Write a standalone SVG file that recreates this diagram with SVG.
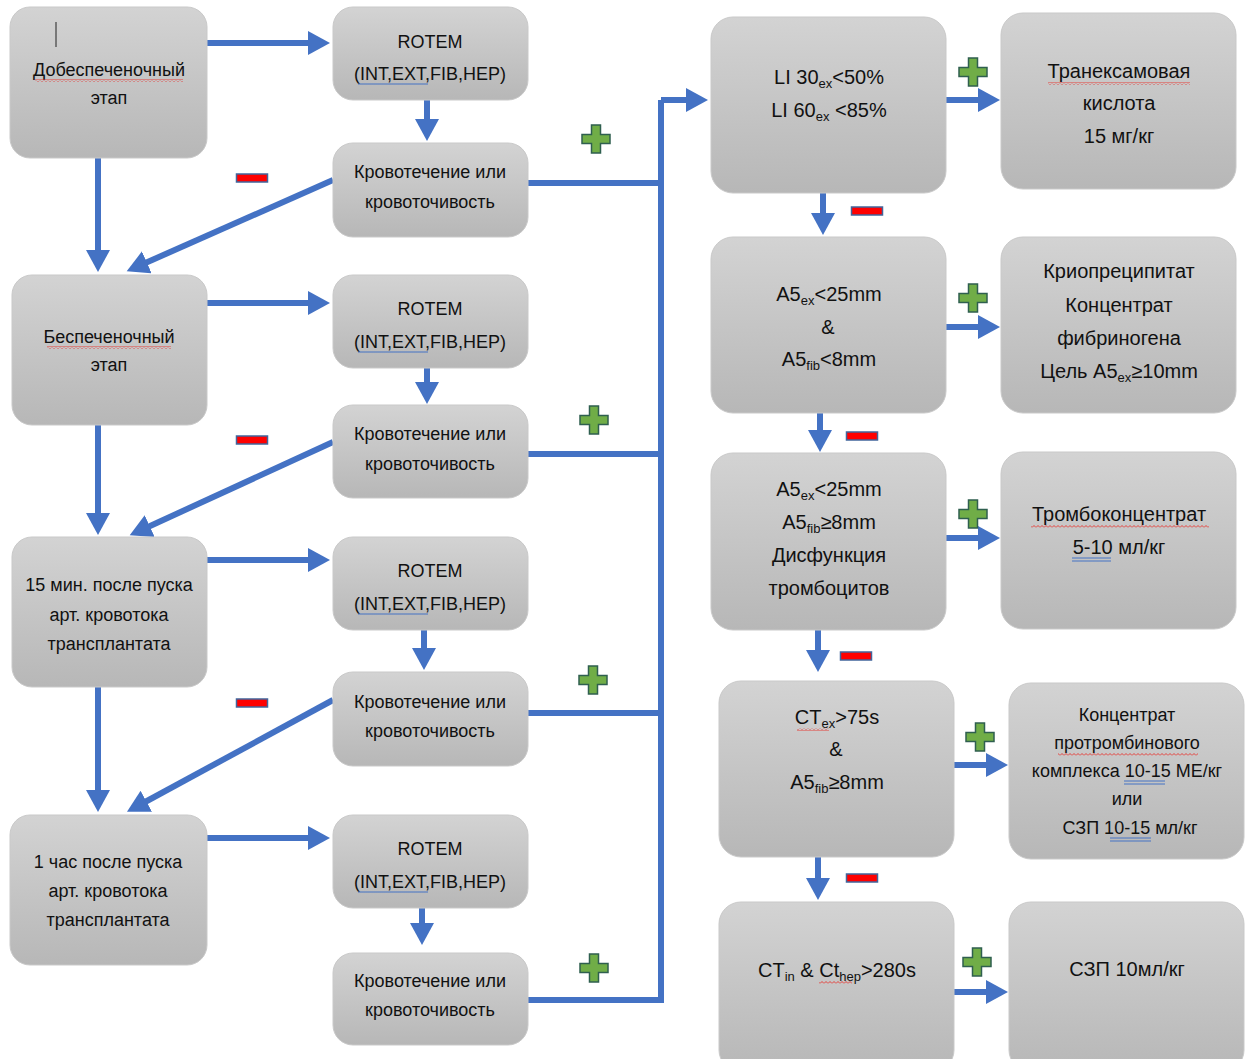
<svg xmlns="http://www.w3.org/2000/svg" width="1253" height="1059" viewBox="0 0 1253 1059">
<defs>
<linearGradient id="g" x1="0" y1="0" x2="0" y2="1">
<stop offset="0" stop-color="#d3d3d3"/>
<stop offset="1" stop-color="#b7b7b7"/>
</linearGradient>
<marker id="ah" markerUnits="userSpaceOnUse" markerWidth="24" markerHeight="26" refX="14" refY="12" orient="auto">
<path d="M0 0 L22 12 L0 24 Z" fill="#4472c4"/>
</marker>
<pattern id="wave" width="4" height="3" patternUnits="userSpaceOnUse">
<path d="M0 2.5 L2 0.5 L4 2.5" fill="none" stroke="#e8302a" stroke-width="0.9"/>
</pattern>
<g id="plus"><path d="M-4.5 -14 H4.5 V-4.5 H14 V4.5 H4.5 V14 H-4.5 V4.5 H-14 V-4.5 H-4.5 Z" fill="#70ad47" stroke="#2f5f4f" stroke-width="1.5"/></g>
<g id="minus"><rect x="-15.5" y="-4" width="31" height="8" fill="#ff0000" stroke="#41659c" stroke-width="1.5"/></g>
</defs>
<style>
.box{fill:url(#g);stroke:#c9c9c9;stroke-width:1}
text{font-family:"Liberation Sans",Arial,sans-serif;fill:#111;text-anchor:middle}
.s{font-size:18px}
.m{font-size:20px}
.c{fill:none;stroke:#4472c4;stroke-width:6}
.sq{fill:url(#wave)}
.bl{stroke:#4472c4;stroke-width:1;fill:none}
</style>
<rect width="1253" height="1059" fill="#ffffff"/>

<g id="connectors">
<path class="c" d="M207 43 H322" marker-end="url(#ah)"/>
<path class="c" d="M207 303 H322" marker-end="url(#ah)"/>
<path class="c" d="M207 560 H322" marker-end="url(#ah)"/>
<path class="c" d="M207 838 H322" marker-end="url(#ah)"/>
<path class="c" d="M427 100 V133" marker-end="url(#ah)"/>
<path class="c" d="M427 368 V396" marker-end="url(#ah)"/>
<path class="c" d="M424 630 V662" marker-end="url(#ah)"/>
<path class="c" d="M422 907 V937" marker-end="url(#ah)"/>
<path class="c" d="M98 158 V264" marker-end="url(#ah)"/>
<path class="c" d="M98 425 V527" marker-end="url(#ah)"/>
<path class="c" d="M98 687 V804" marker-end="url(#ah)"/>
<path class="c" d="M333 180 L134 268" marker-end="url(#ah)"/>
<path class="c" d="M333 442 L137 532" marker-end="url(#ah)"/>
<path class="c" d="M333 700 L134 808" marker-end="url(#ah)"/>
<path class="c" d="M528 183 H661 M528 454 H661 M528 713 H661 M528 1000 H661 V100"/>
<path class="c" d="M661 100 H700" marker-end="url(#ah)"/>
<path class="c" d="M823 193 V227" marker-end="url(#ah)"/>
<path class="c" d="M820 413 V444" marker-end="url(#ah)"/>
<path class="c" d="M818 630 V664" marker-end="url(#ah)"/>
<path class="c" d="M818 857 V892" marker-end="url(#ah)"/>
<path class="c" d="M946 100 H992" marker-end="url(#ah)"/>
<path class="c" d="M946 327 H992" marker-end="url(#ah)"/>
<path class="c" d="M946 538 H992" marker-end="url(#ah)"/>
<path class="c" d="M954 765 H1000" marker-end="url(#ah)"/>
<path class="c" d="M954 992 H1000" marker-end="url(#ah)"/>
</g>

<g id="signs">
<use href="#plus" x="596" y="139"/>
<use href="#plus" x="594" y="420"/>
<use href="#plus" x="593" y="680"/>
<use href="#plus" x="594" y="968"/>
<use href="#plus" x="973" y="72"/>
<use href="#plus" x="973" y="298"/>
<use href="#plus" x="973" y="514"/>
<use href="#plus" x="980" y="737"/>
<use href="#plus" x="977" y="962"/>
<use href="#minus" x="252" y="178"/>
<use href="#minus" x="252" y="440"/>
<use href="#minus" x="252" y="703"/>
<use href="#minus" x="867" y="211"/>
<use href="#minus" x="862" y="436"/>
<use href="#minus" x="856" y="656"/>
<use href="#minus" x="862" y="878"/>
</g>

<g id="n1">
<rect class="box" x="10" y="7" width="197" height="151" rx="20"/>
<line x1="56" y1="22" x2="56" y2="47" stroke="#222" stroke-width="1"/>
<text class="s" x="109" y="76">Добеспеченочный</text>
<rect class="sq" x="35" y="79" width="148" height="3"/>
<text class="s" x="109" y="104">этап</text>
</g>
<g id="n2">
<rect class="box" x="12" y="275" width="195" height="150" rx="20"/>
<text class="s" x="109" y="343">Беспеченочный</text>
<rect class="sq" x="47" y="346" width="124" height="3"/>
<text class="s" x="109" y="371">этап</text>
</g>
<g id="n3">
<rect class="box" x="12" y="537" width="195" height="150" rx="20"/>
<text class="s" x="109" y="591">15 мин. после пуска</text>
<text class="s" x="109" y="621">арт. кровотока</text>
<text class="s" x="109" y="650">трансплантата</text>
</g>
<g id="n4">
<rect class="box" x="10" y="815" width="197" height="150" rx="20"/>
<text class="s" x="108" y="868">1 час после пуска</text>
<text class="s" x="108" y="897">арт. кровотока</text>
<text class="s" x="108" y="926">трансплантата</text>
</g>

<g id="r1">
<rect class="box" x="333" y="7" width="195" height="93" rx="20"/>
<text class="s" x="430" y="48">ROTEM</text>
<text class="s" x="430" y="80">(INT,EXT,FIB,HEP)</text>
<path class="bl" d="M358 84 H428"/>
</g>
<g id="r2">
<rect class="box" x="333" y="275" width="195" height="93" rx="20"/>
<text class="s" x="430" y="315">ROTEM</text>
<text class="s" x="430" y="348">(INT,EXT,FIB,HEP)</text>
<path class="bl" d="M358 352 H428"/>
</g>
<g id="r3">
<rect class="box" x="333" y="537" width="195" height="93" rx="20"/>
<text class="s" x="430" y="577">ROTEM</text>
<text class="s" x="430" y="610">(INT,EXT,FIB,HEP)</text>
<path class="bl" d="M358 614 H428"/>
</g>
<g id="r4">
<rect class="box" x="333" y="815" width="195" height="93" rx="20"/>
<text class="s" x="430" y="855">ROTEM</text>
<text class="s" x="430" y="888">(INT,EXT,FIB,HEP)</text>
<path class="bl" d="M358 892 H428"/>
</g>

<g id="b1">
<rect class="box" x="333" y="143" width="195" height="94" rx="20"/>
<text class="s" x="430" y="178">Кровотечение или</text>
<text class="s" x="430" y="208">кровоточивость</text>
</g>
<g id="b2">
<rect class="box" x="333" y="405" width="195" height="93" rx="20"/>
<text class="s" x="430" y="440">Кровотечение или</text>
<text class="s" x="430" y="470">кровоточивость</text>
</g>
<g id="b3">
<rect class="box" x="333" y="672" width="195" height="94" rx="20"/>
<text class="s" x="430" y="708">Кровотечение или</text>
<text class="s" x="430" y="737">кровоточивость</text>
</g>
<g id="b4">
<rect class="box" x="333" y="953" width="195" height="92" rx="20"/>
<text class="s" x="430" y="987">Кровотечение или</text>
<text class="s" x="430" y="1016">кровоточивость</text>
</g>

<g id="c1">
<rect class="box" x="711" y="17" width="235" height="176" rx="22"/>
<text class="m" x="829" y="84">LI 30<tspan font-size="13" dy="4">ex</tspan><tspan dy="-4">&lt;50%</tspan></text>
<text class="m" x="829" y="117">LI 60<tspan font-size="13" dy="4">ex</tspan><tspan dy="-4"> &lt;85%</tspan></text>
</g>
<g id="c2">
<rect class="box" x="711" y="237" width="235" height="176" rx="22"/>
<text class="m" x="829" y="301">A5<tspan font-size="13" dy="4">ex</tspan><tspan dy="-4">&lt;25mm</tspan></text>
<text class="m" x="828" y="334">&amp;</text>
<text class="m" x="829" y="366">A5<tspan font-size="13" dy="4">fib</tspan><tspan dy="-4">&lt;8mm</tspan></text>
</g>
<g id="c3">
<rect class="box" x="711" y="453" width="235" height="177" rx="22"/>
<text class="m" x="829" y="496">A5<tspan font-size="13" dy="4">ex</tspan><tspan dy="-4">&lt;25mm</tspan></text>
<text class="m" x="829" y="529">A5<tspan font-size="13" dy="4">fib</tspan><tspan dy="-4">≥8mm</tspan></text>
<text class="m" x="829" y="562">Дисфункция</text>
<text class="m" x="829" y="595">тромбоцитов</text>
</g>
<g id="c4">
<rect class="box" x="719" y="681" width="235" height="176" rx="22"/>
<text class="m" x="837" y="724">CT<tspan font-size="13" dy="4">ex</tspan><tspan dy="-4">&gt;75s</tspan></text>
<rect class="sq" x="797" y="728" width="32" height="3"/>
<text class="m" x="836" y="756">&amp;</text>
<text class="m" x="837" y="789">A5<tspan font-size="13" dy="4">fib</tspan><tspan dy="-4">≥8mm</tspan></text>
</g>
<g id="c5">
<rect class="box" x="719" y="902" width="235" height="170" rx="22"/>
<text class="m" x="837" y="977">CT<tspan font-size="13" dy="4">in</tspan><tspan dy="-4"> &amp; Ct</tspan><tspan font-size="13" dy="4">hep</tspan><tspan dy="-4">&gt;280s</tspan></text>
<rect class="sq" x="819" y="981" width="33" height="3"/>
</g>

<g id="t1">
<rect class="box" x="1001" y="13" width="235" height="176" rx="22"/>
<text class="m" x="1119" y="78">Транексамовая</text>
<rect class="sq" x="1048" y="82" width="142" height="3"/>
<text class="m" x="1119" y="110">кислота</text>
<text class="m" x="1119" y="143">15 мг/кг</text>
</g>
<g id="t2">
<rect class="box" x="1001" y="237" width="235" height="176" rx="22"/>
<text class="m" x="1119" y="278">Криопреципитат</text>
<text class="m" x="1119" y="312">Концентрат</text>
<text class="m" x="1119" y="345">фибриногена</text>
<text class="m" x="1119" y="378">Цель A5<tspan font-size="13" dy="4">ex</tspan><tspan dy="-4">≥10mm</tspan></text>
</g>
<g id="t3">
<rect class="box" x="1001" y="452" width="235" height="177" rx="22"/>
<text class="m" x="1119" y="521">Тромбоконцентрат</text>
<rect class="sq" x="1031" y="525" width="178" height="3"/>
<text class="m" x="1119" y="554">5-10 мл/кг</text>
<path class="bl" d="M1072 558 H1111 M1072 561 H1111"/>
</g>
<g id="t4">
<rect class="box" x="1009" y="683" width="235" height="176" rx="22"/>
<text class="s" x="1127" y="721">Концентрат</text>
<text class="s" x="1127" y="749">протромбинового</text>
<rect class="sq" x="1058" y="753" width="140" height="3"/>
<text class="s" x="1127" y="777">комплекса 10-15 МЕ/кг</text>
<path class="bl" d="M1124 781 H1165 M1124 784 H1165"/>
<text class="s" x="1127" y="805">или</text>
<text class="s" x="1130" y="834">СЗП 10-15 мл/кг</text>
<path class="bl" d="M1110 838 H1151 M1110 841 H1151"/>
</g>
<g id="t5">
<rect class="box" x="1009" y="902" width="235" height="170" rx="22"/>
<text class="m" x="1127" y="976">СЗП 10мл/кг</text>
</g>
</svg>
